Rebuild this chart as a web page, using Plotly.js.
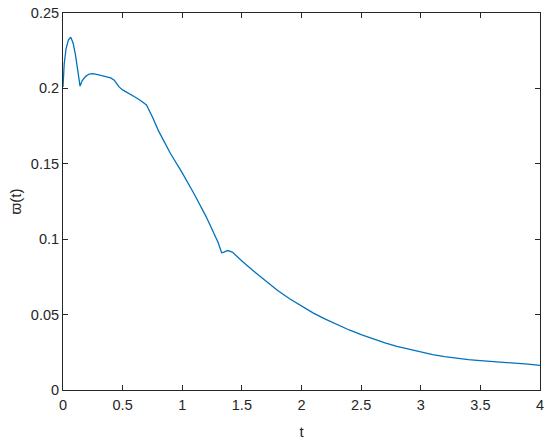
<!DOCTYPE html>
<html>
<head>
<meta charset="utf-8">
<script src="https://cdn.plot.ly/plotly-3.0.1.min.js"></script>
<style>body{margin:0;background:#fff}</style>
</head>
<body>
<div id="chart" style="width:550px;height:440px"></div>
<script>
// values
const tValues = [0, 0.01, 0.025, 0.045, 0.065, 0.085, 0.105, 0.125, 0.143, 0.16, 0.19, 0.22, 0.25, 0.3, 0.35, 0.4, 0.43, 0.47, 0.5, 0.55, 0.6, 0.65, 0.7, 0.75, 0.8, 0.9, 1.0, 1.1, 1.2, 1.3, 1.33, 1.35, 1.38, 1.42, 1.46, 1.5, 1.6, 1.7, 1.8, 1.9, 2.0, 2.1, 2.2, 2.3, 2.4, 2.5, 2.6, 2.7, 2.8, 2.9, 3.0, 3.1, 3.2, 3.3, 3.4, 3.5, 3.6, 3.7, 3.8, 3.9, 4.0];
const wValues = [0.201, 0.216, 0.226, 0.232, 0.234, 0.230, 0.222, 0.210, 0.2015, 0.205, 0.208, 0.2095, 0.2098, 0.209, 0.208, 0.207, 0.2055, 0.201, 0.199, 0.197, 0.1945, 0.192, 0.189, 0.181, 0.172, 0.157, 0.144, 0.130, 0.115, 0.098, 0.091, 0.0915, 0.0925, 0.0915, 0.0885, 0.0855, 0.0788, 0.0725, 0.0660, 0.0605, 0.0555, 0.051, 0.047, 0.0432, 0.0398, 0.0367, 0.0339, 0.0313, 0.029, 0.027, 0.0251, 0.0235, 0.0221, 0.021, 0.0201, 0.0195, 0.019, 0.0185, 0.0179, 0.0171, 0.0163];
const xTicks = [0, 0.5, 1, 1.5, 2, 2.5, 3, 3.5, 4];
const yTicks = [0, 0.05, 0.1, 0.15, 0.2, 0.25];

const axisStyle = {
  showgrid: false,
  zeroline: false,
  showline: true,
  linecolor: "#262626",
  linewidth: 1,
  mirror: "ticks",
  ticks: "inside",
  ticklen: 5,
  tickcolor: "#262626",
  tickfont: {family: "Liberation Sans, Arial", size: 14.5, color: "#262626"}
};

const data = [{
  x: tValues,
  y: wValues,
  type: "scatter",
  mode: "lines",
  line: {color: "#0072BD", width: 1.3}
}];

const layout = {
  width: 550,
  height: 440,
  margin: {l: 63, r: 10, t: 13, b: 50},
  paper_bgcolor: "#fff",
  plot_bgcolor: "#fff",
  showlegend: false,
  xaxis: Object.assign({}, axisStyle, {
    range: [0, 4],
    tickvals: xTicks,
    ticktext: xTicks.map(String),
    ticklabelstandoff: 2,
    title: {text: "t", font: {family: "Liberation Sans, Arial", size: 15, color: "#262626"}, standoff: 14}
  }),
  yaxis: Object.assign({}, axisStyle, {
    range: [0, 0.25],
    tickvals: yTicks,
    ticktext: yTicks.map(String),
    title: {text: "ϖ(t)", font: {family: "Liberation Sans, Arial", size: 15, color: "#262626"}, standoff: 5}
  })
};

Plotly.newPlot("chart", data, layout, {displayModeBar: false, staticPlot: true});
</script>
</body>
</html>
